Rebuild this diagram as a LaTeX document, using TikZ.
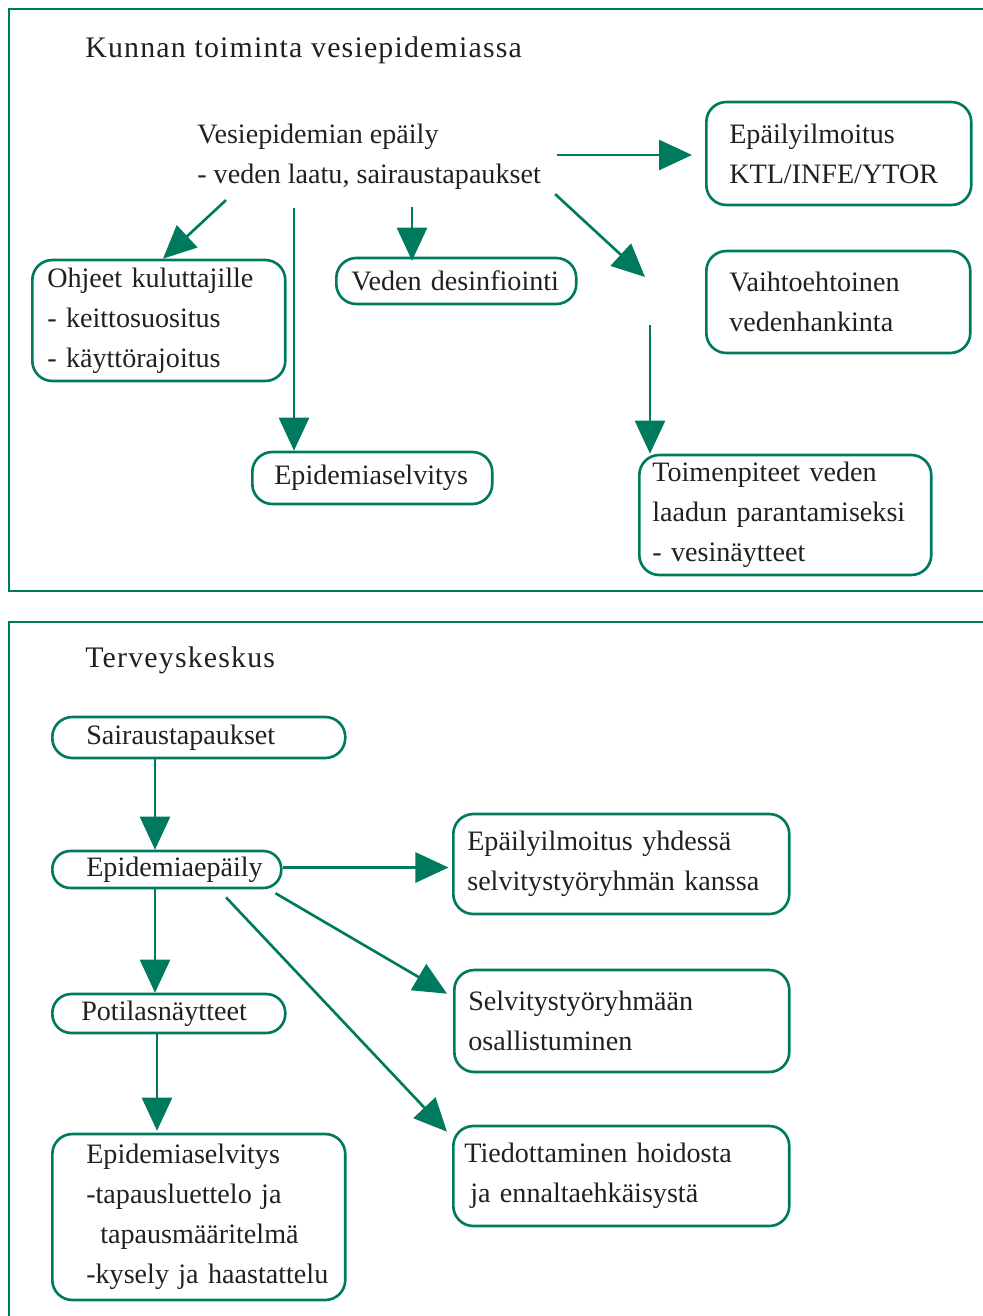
\documentclass[tikz,border=0pt]{standalone}
\usepackage{fontspec}
\setmainfont{Liberation Serif}
\newfontfamily\otsikkofont[LetterSpace=4]{Liberation Serif}
\usepackage{tikz}
\usetikzlibrary{arrows.meta, positioning, calc}
\definecolor{vesivihrea}{RGB}{0,122,94}
\definecolor{tekstimusta}{RGB}{35,31,32}

\begin{document}
\begin{tikzpicture}[
        x=0.02cm, y=-0.02cm,
        every node/.style={font=\fontsize{16}{22.76}\selectfont, text=tekstimusta},
        laatikko/.style={draw=vesivihrea, line width=1.5pt, rounded corners=0.4cm, align=left, anchor=west, inner ysep=0pt},
        nuoli/.style={-{Triangle[length=6.6mm, width=6mm]}, line width=1.5pt, vesivihrea},
        kehys/.style={draw=vesivihrea, line width=1.6pt},
        otsikko/.style={anchor=west, inner sep=0pt, font=\otsikkofont\fontsize{17}{20}\selectfont}
    ]
        \clip (0,0) rectangle (983,1316);
        \draw[kehys] (9,9) rectangle (1000,591);
        \draw[kehys] (9,622) rectangle (1000,1340);

        \node[otsikko] (kunta) at (85,50) {Kunnan toiminta vesiepidemiassa};
        \node[anchor=west, align=left, inner xsep=0pt, inner ysep=4pt] (epaily) at (197,157) {Vesiepidemian epäily\\- veden laatu, sairaustapaukset};
        \node[laatikko, inner xsep=0.46cm, text width=4.38cm, minimum height=2.06cm] (ilmoitus) at (705,153.5) {Epäilyilmoitus\\KTL/INFE/YTOR};
        \node[laatikko, inner xsep=0.46cm, text width=4.36cm, minimum height=2.04cm] (vaihto) at (705,302) {Vaihtoehtoinen\\vedenhankinta};
        \node[laatikko, inner xsep=0.3cm, text width=4.46cm, minimum height=2.42cm] (ohjeet) at (31,320.5) {Ohjeet kuluttajille\\- keittosuositus\\- käyttörajoitus};
        \node[laatikko, inner xsep=0.3cm, text width=4.2cm, minimum height=0.92cm] (desinf) at (335,281) {Veden desinfiointi};
        \node[laatikko, inner xsep=0.44cm, text width=3.92cm, minimum height=1.04cm] (selvitys) at (251,478) {Epidemiaselvitys};
        \node[laatikko, inner xsep=0.26cm, text width=5.32cm, minimum height=2.4cm] (toimet) at (638,515) {Toimenpiteet veden\\laadun parantamiseksi\\- vesinäytteet};
        \coordinate (vapaa) at (645,277);
        \coordinate (alku) at (650,325);

        \draw[nuoli, shorten >=0.26cm] ($(epaily.east)+(16,-2)$) coordinate (h1) -- (h1 -| ilmoitus.west);
        \draw[nuoli] ($(epaily.south west)+(29,3)$) -- ($(ohjeet.north west)+(132,0)$);
        \draw[nuoli] ($(epaily.south west)+(97,11)$) coordinate (v1) -- (v1 |- selvitys.north);
        \draw[nuoli] ($(epaily.south west)+(215,10)$) coordinate (v2) -- ($(v2 |- desinf.north)+(0,4)$);
        \draw[nuoli] ($(epaily.south east)+(14,-3)$) -- (vapaa);
        \draw[nuoli] (alku) -- (alku |- toimet.north);

        \node[otsikko] (terveys) at (85,660) {Terveyskeskus};
        \node[laatikko, inner xsep=0.68cm, text width=4.5cm, minimum height=0.82cm] (sairaus) at (51,737.5) {Sairaustapaukset};
        \node[laatikko, inner xsep=0.68cm, text width=3.22cm, minimum height=0.74cm, rounded corners=0.36cm] (epidemia) at (51,869.5) {Epidemiaepäily};
        \node[laatikko, inner xsep=0.58cm, text width=3.5cm, minimum height=0.78cm, rounded corners=0.38cm] (potilas) at (51,1013.5) {Potilasnäytteet};
        \node[laatikko, inner xsep=0.68cm, text width=4.5cm, minimum height=3.32cm] (selvitys2) at (51,1217) {Epidemiaselvitys\\-tapausluettelo ja\\\hspace*{0.28cm}tapausmääritelmä\\\mbox{-kysely ja haastattelu}};
        \node[laatikko, inner xsep=0.28cm, text width=6.16cm, minimum height=2cm] (yhdessa) at (452,864) {Epäilyilmoitus yhdessä\\selvitystyöryhmän kanssa};
        \node[laatikko, inner xsep=0.28cm, text width=6.14cm, minimum height=2.04cm] (osallis) at (453,1021) {Selvitystyöryhmään\\osallistuminen};
        \node[laatikko, inner xsep=0.22cm, text width=6.28cm, minimum height=2cm] (tiedotus) at (452,1176) {Tiedottaminen hoidosta\\\hspace*{0.12cm}ja ennaltaehkäisystä};

        \draw[nuoli] ($(sairaus.south west)+(104,0)$) coordinate (p1) -- (p1 |- epidemia.north);
        \draw[nuoli] ($(epidemia.south west)+(104,0)$) coordinate (p2) -- (p2 |- potilas.north);
        \draw[nuoli] ($(potilas.south west)+(106,0)$) coordinate (p3) -- ($(p3 |- selvitys2.north)+(0,-2)$);
        \draw[nuoli, shorten >=2pt] ($(epidemia.east)+(0,-2)$) coordinate (h2) -- (h2 -| yhdessa.west);
        \draw[nuoli] ($(epidemia.south east)+(-7,4)$) -- ($(osallis.north west)+(-6,25)$);
        \draw[nuoli] ($(epidemia.south west)+(175,8)$) -- ($(tiedotus.north west)+(-5,7)$);
    \end{tikzpicture}
\end{document}
